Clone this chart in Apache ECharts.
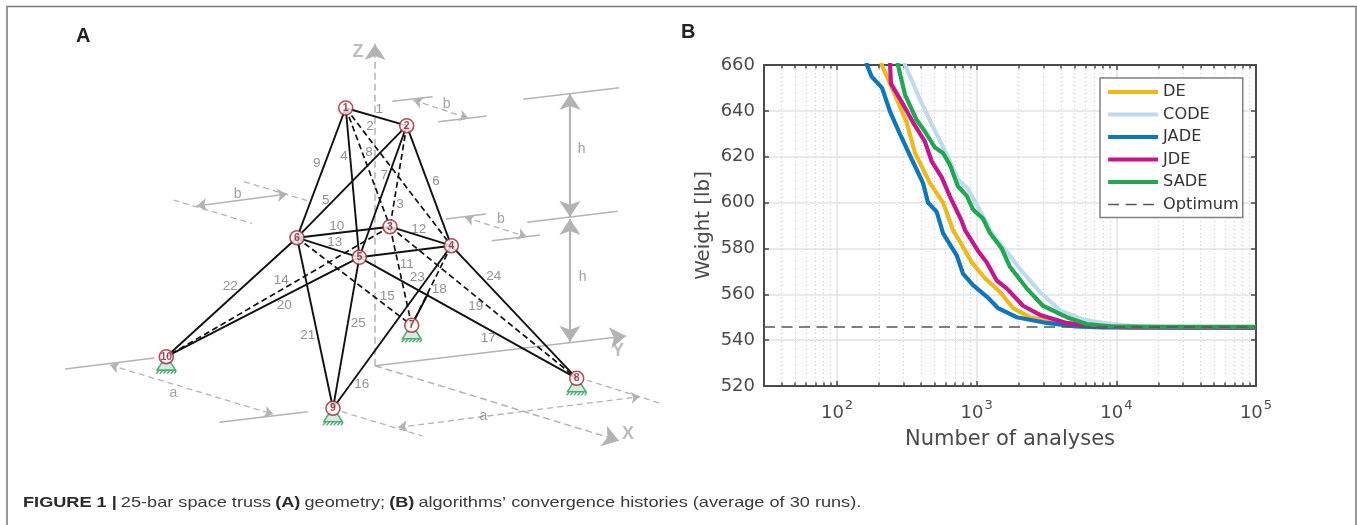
<!DOCTYPE html>
<html>
<head>
<meta charset="utf-8">
<style>html,body{margin:0;padding:0;background:#fff}#c{width:1357px;height:525px}</style>
<script src="https://cdn.jsdelivr.net/npm/echarts@6/dist/echarts.min.js"></script>
</head>
<body>
<div id="c"></div>
<script>
// Panel B: convergence histories [analyses, weight]
const DE = [[195,672],[209,660],[252,649],[315,635],[362,621.6],[463,608.5],[574,600],[677,588],[759,583],[921,574],[1146,567],[1470,561],[1820,554],[2407,550],[3520,548],[5140,546.2],[9000,545.8],[100000,545.7]];
const CODE = [[270,672],[307,660],[393,645],[487,633],[610,621],[735,610],[866,606],[1146,592.4],[1280,586.7],[1640,578.6],[2040,571],[2840,561],[3950,553],[5770,549],[9000,547],[14750,546],[30000,545.9],[100000,545.8]];
const JADE = [[150,672],[164,660],[177,654.9],[210,650],[240,639.6],[282,630],[342,619],[413,608.5],[448,600],[517,596],[574,586.7],[719,577],[798,569],[941,564],[1179,559],[1420,554],[1933,550],[3170,547.5],[5140,546],[8000,545.6],[100000,545.4]];
const JDE = [[240,672],[240,660],[243,652],[290,644],[350,635],[426,626.6],[476,618],[562,611],[644,602.6],[781,592],[825,588],[1020,579],[1179,574],[1390,566],[1640,562.6],[2145,555],[2840,551],[4410,547.5],[6470,546.2],[12000,545.6],[100000,545.4]];
const SADE = [[262,672],[273,660],[307,647],[372,636],[426,631],[503,624],[574,621.6],[644,616.4],[735,607],[848,603],[941,597],[1109,593],[1245,586.7],[1510,580],[1730,572],[2280,562.6],[2980,555],[4410,550],[6130,547],[9000,546],[20000,545.8],[100000,545.8]];
const OPTIMUM = [[30,545.7],[100000,545.7]];
const yTicks = [520,540,560,580,600,620,640,660];

// Panel A: truss diagram in diagram units
const nodes = {1:[345.7,108],2:[406.7,125.7],3:[390,226.7],4:[451.3,245.7],5:[359.3,257.3],6:[297,237.7],7:[411.7,325.3],8:[576.7,378.3],9:[333,408.3],10:[166.3,356.7]};
const solidBars = [[1,2],[1,5],[2,6],[2,4],[2,5],[1,6],[6,3],[3,4],[6,5],[4,9],[5,8],[5,10],[6,9],[6,10],[5,4],[4,8],[5,9]];
const dashedBars = [[1,4],[2,3],[1,3],[3,7],[3,10],[6,7],[3,8],[4,7]];
const bar18LowerPart = [[411.7,325.3,428.3,293.3]];
const supports = [7,8,9,10];
const barLabels = [['1',379.3,109],['2',370,126],['3',400,204.3],['4',344,156.7],['5',325.7,200.7],['6',436,181],['7',384.3,175],['8',369,152.7],['9',316.7,163.3],['10',336.7,226.7],['11',406.7,264.3],['12',418.7,229],['13',334.7,242.7],['14',281.3,280],['15',387.3,296.7],['16',361.7,384],['17',488.3,338.3],['18',439.3,289],['19',475.7,306.7],['20',284.3,305.7],['21',307.7,335.7],['22',230.3,286.7],['23',417.3,277.3],['24',493.7,276],['25',358.3,323.3]];
const dimLabels = [['a',173.3,393.3],['a',483.3,415.7],['b',237.7,194],['b',446.7,104],['b',501,219.3],['h',581.7,149],['h',582.7,277.3]];
const axisLabels = [['Z',358,51.7],['Y',618,350.7],['X',628,434]];
const graySolid = [[65,369,154.3,358],[219.3,422.3,307.7,411.7],[392.3,101.3,432.7,96.7],[438.3,121.7,486.7,116],[446,219,486,214],[491.7,240.7,540,235],[523.3,99.3,619.3,87.7],[527.3,222.3,617.7,211.3]];
const grayDashed = [[586.7,380,660,403.3],[341.7,411.7,422.7,436],[173.3,200,251.7,223.3],[244,181.7,307.3,200.7]];
const dimDashedArrows = [[110,365,273.3,414.3],[398.3,427.3,640,396.7],[413.3,100,468.3,118.3],[465,217.3,526.7,236.7]];
const dimSolidArrows = [[196.7,206,287.3,194]];
const heightArrows = [[570,94,570,216.7],[570,219,570,341.7]];
const axisDashed = [[375,365.7,375,44],[375,365.7,619,440.7]];
const axisSolid = [[375,365.7,626,336]];

const GREY = '#b3b3b3', FONT = 'DejaVu Sans', LFONT = 'Liberation Sans';
const segs = (arr) => arr.map(a => ({coords: [[a[0],a[1]],[a[2],a[3]]]}));
const bars = (arr) => arr.map(b => ({coords: [nodes[b[0]], nodes[b[1]]]}));
const supportPath = 'path://M6,0 L16,0 L21,9 L1,9 Z M0,10 L22,10 M3,10 L0,14 M7,10 L4,14 M11,10 L8,14 M15,10 L12,14 M19,10 L16,14 M22,10 L20,14';

function curve(name, data, color, z) {
  return {name, type:'line', data, xAxisIndex:0, yAxisIndex:0, symbol:'none', showSymbol:false, smooth:false, clip:true,
    lineStyle:{color, width:4.2}, itemStyle:{color}, z, animation:false};
}
function lines(data, color, width, type, symbol, symbolSize, z) {
  return {type:'lines', coordinateSystem:'cartesian2d', xAxisIndex:2, yAxisIndex:2, polyline:false, silent:true, animation:false,
    data, symbol, symbolSize, lineStyle:{color, width, type, opacity:1, curveness:0}, z};
}
function texts(data, color, size, weight) {
  return {type:'scatter', xAxisIndex:2, yAxisIndex:2, silent:true, animation:false, symbolSize:1,
    itemStyle:{color:'transparent'}, data:data.map(d => ({value:[d[1],d[2]], name:d[0]})),
    label:{show:true, position:'inside', formatter:'{b}', color, fontFamily:LFONT, fontSize:size, fontWeight:weight||'normal'}, z:8};
}

const chart = echarts.init(document.getElementById('c'), null, {renderer:'canvas'});

chart.setOption({
  animation:false,
  backgroundColor:'#fff',
  grid:[
    {left:764, top:65, width:492, height:321, show:false},
    {left:0, top:0, width:680, height:525, show:false}
  ],
  xAxis:[
    {type:'log', gridIndex:0, min:30, max:100000, logBase:10, position:'bottom',
     name:'Number of analyses', nameLocation:'middle', nameGap:43,
     nameTextStyle:{color:'#4a4a4a', fontFamily:FONT, fontSize:21},
     axisLine:{show:true, onZero:false, lineStyle:{color:'#4a4a4a', width:2}},
     axisTick:{show:true, inside:true, length:5, lineStyle:{color:'#4a4a4a', width:1.5}},
     minorTick:{show:true, splitNumber:9, length:3.5, lineStyle:{color:'#4a4a4a', width:1.5}},
     splitLine:{show:true, lineStyle:{color:'#e2e2e2', width:1.5}},
     minorSplitLine:{show:true, lineStyle:{color:'#c8c8c8', width:1, type:[1,3]}},
     axisLabel:{show:true, color:'#4a4a4a', margin:12,
       formatter:(v) => { const e = Math.round(Math.log10(v)); return Math.abs(Math.log10(v)-e)<1e-6 ? '{a|10}{b|'+e+'}' : ''; },
       rich:{a:{fontFamily:FONT, fontSize:18, color:'#4a4a4a', padding:[6,0,0,0]}, b:{fontFamily:FONT, fontSize:13, color:'#4a4a4a', padding:[0,0,8,1]}}}},
    {type:'log', gridIndex:0, min:30, max:100000, logBase:10, position:'top',
     axisLine:{show:true, onZero:false, lineStyle:{color:'#4a4a4a', width:2}},
     axisTick:{show:true, inside:true, length:5, lineStyle:{color:'#4a4a4a', width:1.5}},
     minorTick:{show:true, splitNumber:9, length:3.5, lineStyle:{color:'#4a4a4a', width:1.5}},
     splitLine:{show:false}, axisLabel:{show:false}},
    {type:'value', gridIndex:1, min:0, max:680, show:false, splitLine:{show:false}}
  ],
  yAxis:[
    {type:'value', gridIndex:0, min:520, max:660, interval:20, position:'left',
     name:'Weight [lb]', nameLocation:'middle', nameGap:50, nameRotate:90,
     nameTextStyle:{color:'#4a4a4a', fontFamily:FONT, fontSize:19.8},
     axisLine:{show:true, onZero:false, lineStyle:{color:'#4a4a4a', width:2}},
     axisTick:{show:true, inside:true, length:5, lineStyle:{color:'#4a4a4a', width:1.5}},
     splitLine:{show:true, lineStyle:{color:'#e2e2e2', width:1.5}},
     axisLabel:{color:'#4a4a4a', fontFamily:FONT, fontSize:18, margin:9,
       formatter:(v)=> yTicks.includes(v) ? String(v) : ''}},
    {type:'value', gridIndex:0, min:520, max:660, interval:20, position:'right',
     axisLine:{show:true, onZero:false, lineStyle:{color:'#4a4a4a', width:2}},
     axisTick:{show:true, inside:true, length:5, lineStyle:{color:'#4a4a4a', width:1.5}},
     splitLine:{show:false}, axisLabel:{show:false}},
    {type:'value', gridIndex:1, min:0, max:525, inverse:true, show:false, splitLine:{show:false}}
  ],
  legend:{
    show:true, orient:'vertical', left:1100, top:78, padding:[6,4,5,6],
    itemWidth:50, itemHeight:14, itemGap:6.5,
    backgroundColor:'#fff', borderColor:'#808080', borderWidth:1.5, borderRadius:0,
    data:['DE','CODE','JADE','JDE','SADE','Optimum'],
    itemStyle:{color:'transparent', borderWidth:0, opacity:0},
    lineStyle:{width:'inherit', type:'inherit', color:'inherit'},
    textStyle:{color:'#333', fontFamily:FONT, fontSize:16.2}, selectedMode:false, z:20
  },
  graphic:[
    {type:'polyline', silent:true, z:30, shape:{points:[[7,525],[7,6.5],[1356,6.5],[1356,525]]}, style:{stroke:'#777', lineWidth:1.5, fill:null}},
    {type:'text', silent:true, z:30, x:76, y:26, style:{text:'A', fontFamily:LFONT, fontWeight:'bold', fontSize:20, fill:'#222'}},
    {type:'text', silent:true, z:30, x:681, y:22, style:{text:'B', fontFamily:LFONT, fontWeight:'bold', fontSize:20, fill:'#222'}},
    {type:'text', silent:true, z:30, x:23, y:495, scaleX:1.21, scaleY:1, style:{
      rich:{b:{fontFamily:LFONT, fontWeight:'bold', fontSize:15, fill:'#2a2a2a'}, n:{fontFamily:LFONT, fontSize:15, fill:'#3a3a3a'}},
      text:"{b|FIGURE 1 |} {n|25-bar space truss} {b|(A)} {n|geometry;} {b|(B)} {n|algorithms\u2019 convergence histories (average of 30 runs).}"}}
  ],
  series:[
    curve('DE', DE, '#EDB91C', 5),
    curve('CODE', CODE, '#BFD9EE', 4),
    curve('JADE', JADE, '#0F75BC', 5),
    curve('JDE', JDE, '#C6168D', 6),
    curve('SADE', SADE, '#1FA84F', 7),
    {name:'Optimum', type:'line', data:OPTIMUM, xAxisIndex:0, yAxisIndex:0, symbol:'none', showSymbol:false,
     lineStyle:{color:'#555', width:1.5, type:[11,6.5]}, itemStyle:{color:'#555'}, z:8, animation:false},
    // Panel A
    lines(segs(graySolid), GREY, 1.6, 'solid', ['none','none'], 0, 1),
    lines(segs(grayDashed), GREY, 1.3, [6,4], ['none','none'], 0, 1),
    lines(segs(axisDashed), GREY, 1.5, [7,4], ['none','arrow'], 16, 1),
    lines(segs(axisSolid), GREY, 1.6, 'solid', ['none','arrow'], 16, 1),
    lines(segs(dimDashedArrows), GREY, 1.3, [6,4], ['arrow','arrow'], 9, 1),
    lines(segs(dimSolidArrows), GREY, 1.6, 'solid', ['arrow','arrow'], 10, 1),
    lines(segs(heightArrows), GREY, 2.2, 'solid', ['arrow','arrow'], 16, 1),
    lines(bars(solidBars), '#111', 1.9, 'solid', ['none','none'], 0, 3),
    lines(bars(dashedBars), '#111', 1.7, [6,3.5], ['none','none'], 0, 3),
    lines(segs(bar18LowerPart), '#111', 1.9, 'solid', ['none','none'], 0, 3),
    {type:'scatter', xAxisIndex:2, yAxisIndex:2, silent:true, animation:false, symbol:supportPath, symbolSize:[20,11], symbolOffset:[0,11.5],
     data:supports.map(n => nodes[n]), itemStyle:{color:'#cfe3d5', borderColor:'#1f9a50', borderWidth:1.2}, z:4},
    {type:'scatter', xAxisIndex:2, yAxisIndex:2, silent:true, animation:false, symbol:'circle', symbolSize:14,
     data:Object.keys(nodes).map(k => ({value:nodes[k], name:k})),
     itemStyle:{color:'#fff', borderColor:'#a3202c', borderWidth:1.6},
     label:{show:true, position:'inside', formatter:'{b}', color:'#8f1b27', fontFamily:LFONT, fontWeight:'bold', fontSize:10.5}, z:6},
    texts(barLabels, '#777', 13.5),
    texts(dimLabels, '#8a8a8a', 14),
    texts(axisLabels, '#adadad', 18, 'bold')
  ]
});
</script>
</body>
</html>
